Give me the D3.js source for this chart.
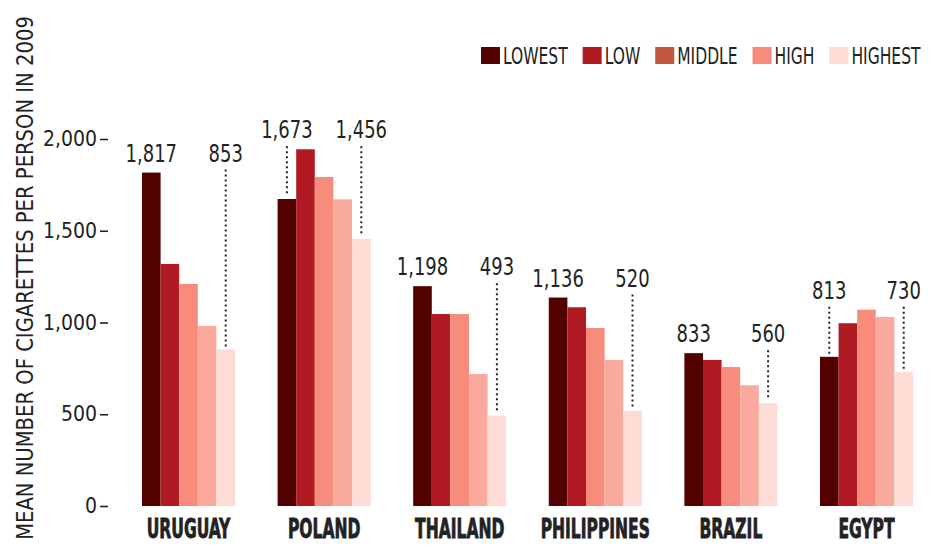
<!DOCTYPE html>
<html>
<head>
<meta charset="utf-8">
<script src="https://cdn.jsdelivr.net/npm/d3@7"></script>
<style>
  body { margin: 0; background: #fff; }
  svg text { font-family: "Liberation Sans Narrow", "DejaVu Sans Condensed", sans-serif; fill: #222; }
</style>
</head>
<body>
<div id="chart"></div>
<script>
var countries = ["URUGUAY", "POLAND", "THAILAND", "PHILIPPINES", "BRAZIL", "EGYPT"];
var levels = ["LOWEST", "LOW", "MIDDLE", "HIGH", "HIGHEST"];
var lowest  = [1817, 1673, 1198, 1136, 833, 813];
var low     = [1319, 1944, 1046, 1083, 796, 996];
var middle  = [1210, 1793, 1046, 970, 757, 1070];
var high    = [981, 1671, 719, 796, 658, 1030];
var highest = [853, 1456, 493, 520, 560, 730];
var yTicks = [0, 500, 1000, 1500, 2000];
var barColors = ["#520000", "#b01a22", "#f78b7c", "#f9aa9d", "#fcdcd5"];
var legendColors = ["#520000", "#b01a22", "#c0583f", "#f78b7c", "#fcdcd5"];

var width = 940, height = 552;
var series = [lowest, low, middle, high, highest];
var data = countries.map(function (c, i) {
  return { country: c, values: series.map(function (s, j) { return { level: levels[j], value: s[i] }; }) };
});

var svg = d3.select("#chart").append("svg")
  .attr("width", width)
  .attr("height", height);

var y = d3.scaleLinear().domain([0, 2000]).range([506, 139]);
var x0 = d3.scaleBand().domain(countries).range([142, 913]).paddingInner(0.314).paddingOuter(0);
var x1 = d3.scaleBand().domain(levels).range([0, x0.bandwidth()]);
var color = d3.scaleOrdinal().domain(levels).range(barColors);

// y axis
var yAxis = d3.axisLeft(y).tickValues(yTicks).tickSize(8).tickPadding(3)
  .tickFormat(d3.format(","));
var yg = svg.append("g")
  .attr("transform", "translate(108,0)")
  .call(yAxis);
yg.select(".domain").remove();
yg.selectAll(".tick line").attr("stroke", "#222").attr("stroke-width", 1.6);
yg.selectAll(".tick text").style("font-size", "21px").attr("fill", "#222");

// y title, squeezed to the reference length
var title = svg.append("text")
  .style("text-anchor", "middle")
  .style("font-size", "23px")
  .text("MEAN NUMBER OF CIGARETTES PER PERSON IN 2009");
var tScale = 524 / title.node().getComputedTextLength();
title.attr("transform", "translate(33,278) rotate(-90) scale(" + tScale + ",1)");

// bars
var groups = svg.selectAll(".group")
  .data(data)
  .enter().append("g")
  .attr("class", "group")
  .attr("transform", function (d) { return "translate(" + x0(d.country) + ",0)"; });

groups.selectAll("rect")
  .data(function (d) { return d.values; })
  .enter().append("rect")
  .attr("x", function (d) { return x1(d.level); })
  .attr("width", x1.bandwidth())
  .attr("y", function (d) { return y(d.value); })
  .attr("height", function (d) { return y(0) - y(d.value); })
  .attr("fill", function (d) { return color(d.level); });

// value labels for lowest and highest
groups.each(function (d) {
  var g = d3.select(this);
  var maxV = d3.max(d.values, function (v) { return v.value; });
  var base = y(maxV) - 11;
  [d.values[0], d.values[4]].forEach(function (v) {
    var cx = x1(v.level) + x1.bandwidth() / 2;
    g.append("text")
      .attr("transform", "translate(" + cx + "," + base + ") scale(0.8,1)")
      .style("text-anchor", "middle")
      .style("font-size", "25px")
      .text(d3.format(",")(v.value));
    var top = y(v.value);
    if (top - base > 20) {
      g.append("line")
        .attr("x1", cx).attr("x2", cx)
        .attr("y1", base + 8).attr("y2", top - 3)
        .attr("stroke", "#222")
        .attr("stroke-width", 2)
        .attr("stroke-dasharray", "2,3");
    }
  });
});

// country labels
svg.selectAll(".country")
  .data(countries)
  .enter().append("text")
  .attr("class", "country")
  .attr("transform", function (d) { return "translate(" + (x0(d) + x0.bandwidth() / 2) + ",538) scale(0.64,1)"; })
  .style("text-anchor", "middle")
  .style("font-size", "27px")
  .style("font-weight", "bold")
  .attr("stroke", "#222")
  .attr("stroke-width", 0.8)
  .text(function (d) { return d; });

// legend
var legend = svg.append("g").attr("transform", "translate(481,47)");
var lx = 0;
levels.forEach(function (l, i) {
  var item = legend.append("g").attr("transform", "translate(" + lx + ",0)");
  item.append("rect").attr("width", 19).attr("height", 17).attr("fill", legendColors[i]);
  var t = item.append("text")
    .attr("transform", "translate(22,17) scale(0.75,1)")
    .style("font-size", "23px")
    .text(l);
  lx += 22 + t.node().getComputedTextLength() * 0.75 + 15;
});
</script>
</body>
</html>
